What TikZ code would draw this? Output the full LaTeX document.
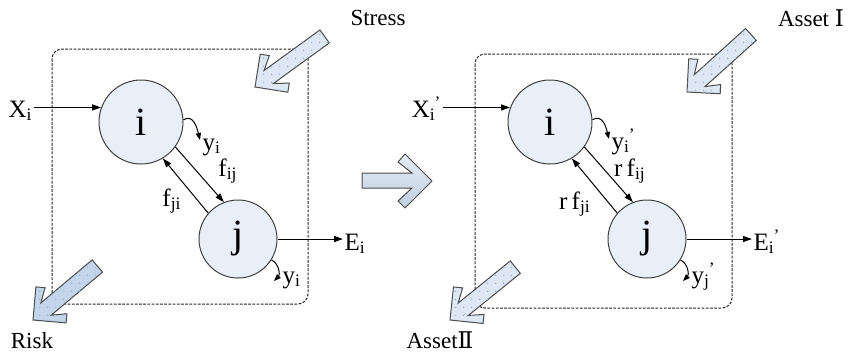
\documentclass[tikz,border=0pt]{standalone}
\usepackage{fontspec}
\setmainfont{Liberation Serif}
\newfontfamily\numrom{DejaVu Serif}
\usetikzlibrary{arrows.meta,patterns.meta}
\definecolor{celeste}{HTML}{E8EFF8}
\definecolor{fondoA}{HTML}{DDE8F4}
\definecolor{fondoB}{HTML}{C3D5EA}
\definecolor{puntini}{HTML}{9DB6D6}
\newcommand{\indap}[3]{#1\textsubscript{#2}\kern-0.5pt\textsuperscript{#3}}
\begin{document}
\begin{tikzpicture}[x=0.5pt, y=-0.5pt,
			>={Triangle[length=4.5pt,width=3pt]}, line width=0.5pt,
			nodoV/.style={circle, draw=black!75, fill=celeste, inner sep=0pt,
				font=\fontsize{20}{24}\selectfont},
			cornice/.style={draw=black!85, dash pattern=on 1.4pt off 0.7pt,
				rounded corners=5pt, line width=0.5pt},
			etich/.style={inner sep=0.5pt, font=\fontsize{12.5}{15}\selectfont},
			titolo/.style={inner sep=0pt, font=\fontsize{11.5}{14}\selectfont},
			flusso/.style={->, black},
			ricic/.style={-{Triangle[length=3.5pt,width=2.6pt]}, black},
			pics/blocco/.style args={#1/#2}{code={
				\path[fill=#2, draw=black!70, line width=0.5pt,
					postaction={pattern={Dots[distance=4pt,radius=0.45pt]}, pattern color=puntini}]
					(-#1,-8) -- (-17,-8) -- (-30,-17) -- (-23.5,-23.5) -- (0,0)
					-- (-23.5,23.5) -- (-30,17) -- (-17,8) -- (-#1,8) -- cycle;}}]
			\useasboundingbox (0,0) rectangle (851,354);
			
			%% pannello sinistro: cornice e nodi
			\draw[cornice] (52,49) rectangle (308,304);
			\node[nodoV, minimum size=42pt] (iL) at (141,122) {i};
			\node[nodoV, minimum size=39pt] (jL) at (238,239) {j};
			
			%% ingresso e uscita
			\node[etich, anchor=base east] (XL) at (34,117) {X\textsubscript{i}};
			\draw[flusso] (XL.east |- iL.160) -- (iL.160);
			\node[etich, anchor=base west] (EL) at (343,250) {E\textsubscript{i}};
			\draw[flusso] (jL.east) -- (jL.east -| EL.west);
			
			%% flussi tra i nodi
			\draw[flusso] (iL.-36) -- (jL.111);
			\draw[flusso] (jL.139) -- (iL.-59);
			\node[etich] (fijL) at (228,171) {f\textsubscript{ij}};
			\node[etich] (fjiL) at (172,201) {f\textsubscript{ji}};
			
			%% ricicli y
			\node[etich, anchor=base west, inner sep=0pt] (yiL) at (202,150) {y\textsubscript{i}};
			\draw[ricic] (iL.3) .. controls +(10,-6) and +(-3,-12) .. ([xshift=-1pt,yshift=5pt]yiL.base west);
			\node[etich, anchor=base west, inner sep=0pt] (yjL) at (282,283) {y\textsubscript{i}};
			\draw[ricic] (jL.-32) .. controls +(8,4) and +(6,-6) .. ([xshift=-4pt,yshift=1pt]yjL.base west);
			
			%% frecce Stress e Risk
			\pic[rotate=216] at (255,87) {blocco=86/fondoA};
			\pic[rotate=220] at (33,320) {blocco=84/fondoB};
			\node[titolo] (tStress) at (378,18) {Stress};
			\node[titolo] (tRisk) at (32,341) {Risk};
			
			%% freccia centrale
			\shade[top color={rgb,255:red,228;green,236;blue,245}, bottom color={rgb,255:red,192;green,207;blue,223},
				draw=black!70] (362,173) -- (412,173) -- (398,162) -- (405,154) -- (432,181)
				-- (405,208) -- (398,201) -- (412,188) -- (362,188) -- cycle;
			
			%% pannello destro: cornice e nodi
			\draw[cornice] (475,54) rectangle (732,308);
			\node[nodoV, minimum size=42pt] (iR) at (550,122) {i};
			\node[nodoV, minimum size=39pt] (jR) at (647,239) {j};
			
			\node[etich, anchor=base east] (XR) at (443,117) {\indap{X}{i}{’}};
			\draw[flusso] (XR.east |- iR.160) -- (iR.160);
			\node[etich, anchor=base west] (ER) at (752,250) {\indap{E}{i}{’}};
			\draw[flusso] (jR.east) -- (jR.east -| ER.west);
			
			\draw[flusso] (iR.-36) -- (jR.111);
			\draw[flusso] (jR.139) -- (iR.-59);
			\node[etich] (fijR) at (630,171) {r\,f\textsubscript{ij}};
			\node[etich] (fjiR) at (575,204) {r\,f\textsubscript{ji}};
			
			\node[etich, anchor=base west, inner sep=0pt] (yiR) at (611,149) {\indap{y}{i}{’}};
			\draw[ricic] (iR.3) .. controls +(10,-6) and +(-3,-12) .. ([xshift=-1pt,yshift=5pt]yiR.base west);
			\node[etich, anchor=base west, inner sep=0pt] (yjR) at (691,283) {\indap{y}{j}{’}};
			\draw[ricic] (jR.-32) .. controls +(8,4) and +(6,-6) .. ([xshift=-4pt,yshift=1pt]yjR.base west);
			
			%% frecce Asset
			\pic[rotate=222] at (687,92) {blocco=86/fondoA};
			\pic[rotate=219] at (450,320) {blocco=84/fondoA};
			\node[titolo] (tAssetI) at (811,18) {Asset {\numrom Ⅰ}};
			\node[titolo] (tAssetII) at (440,340) {Asset{\numrom Ⅱ}};
		\end{tikzpicture}
\end{document}
